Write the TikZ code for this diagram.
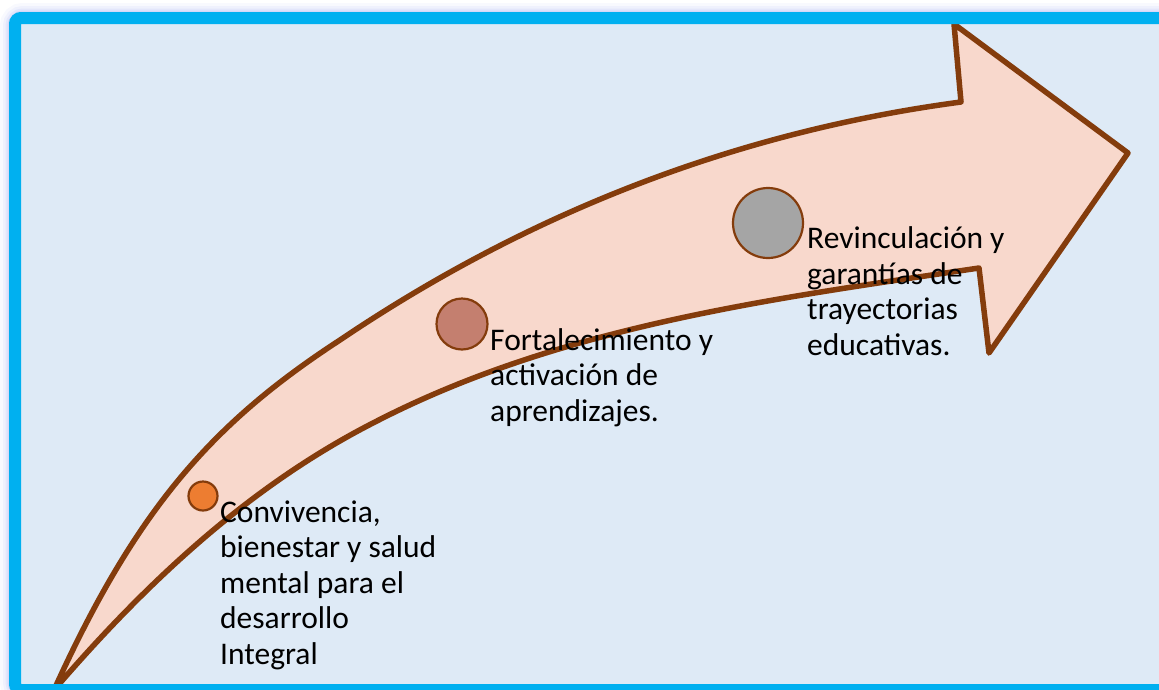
\documentclass[tikz,border=0pt]{standalone}
\usepackage{fontspec}
\setmainfont{Carlito}
\definecolor{bgblue}{HTML}{DEEAF6}
\definecolor{framecyan}{HTML}{00B0F0}
\definecolor{glowblue}{HTML}{7A8CF0}
\definecolor{arrowfill}{HTML}{F8D8CC}
\definecolor{arrowline}{HTML}{843C0C}
\definecolor{dotorange}{HTML}{ED7D31}
\definecolor{dotbrown}{HTML}{C47F6F}
\definecolor{dotgray}{HTML}{A5A5A5}
\begin{document}
\begin{tikzpicture}[x=1pt,y=-1pt,
    dot/.style={circle,draw=arrowline,line width=2.2pt,inner sep=0pt},
    stagetext/.style={anchor=base west,align=left,inner sep=0pt,font=\fontsize{31.5}{35.5}\selectfont}]
  \useasboundingbox (0,0) rectangle (1159,689);
  \clip (0,0) rectangle (1159,689);
  \fill[white] (0,0) rectangle (1159,689);
  \foreach \w/\o in {30/0.05,24/0.07,19/0.1,15/0.14}
    \draw[glowblue,line width=\w pt,opacity=\o,rounded corners=8] (15,18) rectangle (1185,690);
  \fill[bgblue] (15,18) rectangle (1185,690);
  \draw[arrowline,fill=arrowfill,line width=5.5pt,line join=round]
    (54,690) .. controls (137,507) and (214,422) .. (340,340)
    .. controls (540,205) and (750,130) .. (961,102)
    -- (954,24) -- (1128,153) -- (989,353) -- (979,268)
    .. controls (771,299) and (560,326) .. (373,423)
    .. controls (248,487) and (145,584) .. (54,690) -- cycle;
  \node[dot,fill=dotorange,minimum size=29pt] (c1) at (203,496) {};
  \node[dot,fill=dotbrown,minimum size=51pt] (c2) at (462,324) {};
  \node[dot,fill=dotgray,minimum size=70pt] (c3) at (768,223) {};
  \node[stagetext] (t1) at (220,664) {Convivencia,\\bienestar y salud\\mental para el\\desarrollo\\Integral};
  \node[stagetext] (t2) at (490,421) {Fortalecimiento y\\activación de\\aprendizajes.};
  \node[stagetext] (t3) at (807,355) {Revinculación y\\garantías de\\trayectorias\\educativas.};
  \draw[framecyan,line width=12pt,rounded corners=6] (15,18) rectangle (1185,690);
\end{tikzpicture}
\end{document}
